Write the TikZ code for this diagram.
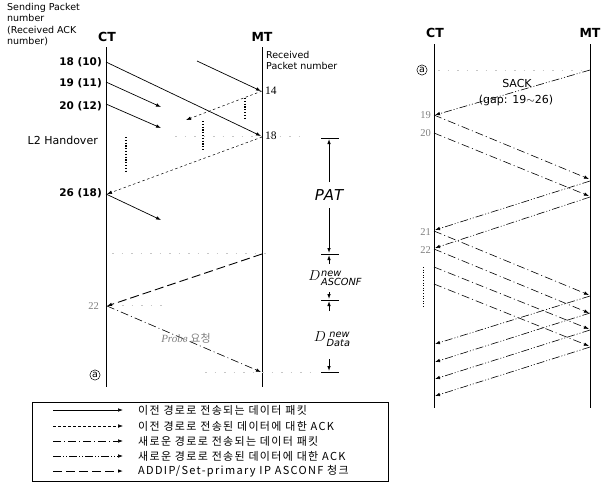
\documentclass[tikz,border=0pt]{standalone}
\usepackage{fontspec}
\setmainfont{DejaVu Sans}
\newfontfamily\kr[LetterSpace=12]{Noto Sans CJK KR}
\newfontfamily\krplain{Noto Sans CJK KR}
\newfontfamily\serifgray{Liberation Serif}
\usetikzlibrary{arrows.meta}
\newcommand{\dlab}[2]{$D$\kern0.6pt\raisebox{-5.5pt}{\shortstack[l]{$\scriptstyle\mathit{#1}$\\[-1.5pt]$\scriptstyle\mathit{#2}$}}}
\begin{document}
\begin{tikzpicture}[x=1pt,y=-1pt,
  tip/.style={-{Latex[length=5pt,width=3.6pt]}},
  life/.style={line width=0.9pt},
  olddata/.style={tip,line width=0.7pt},
  oldack/.style={tip,line width=0.5pt,dash pattern=on 2.5pt off 2.5pt},
  newdata/.style={tip,line width=0.6pt,dash pattern=on 8pt off 3pt on 1pt off 3pt},
  newack/.style={tip,line width=0.6pt,dash pattern=on 8pt off 2pt on 1pt off 2pt on 1pt off 2pt},
  asconf/.style={tip,line width=0.9pt,dash pattern=on 9pt off 4pt},
  faint/.style={gray!45,line width=0.5pt,dash pattern=on 1.5pt off 8pt},
  dots/.style={line width=1.6pt,dash pattern=on 1.2pt off 1.6pt},
  hdr/.style={font=\fontsize{12.5}{14}\selectfont\bfseries},
  num/.style={font=\fontsize{10.5}{12}\selectfont\bfseries,anchor=east,inner sep=1pt},
  small/.style={font=\fontsize{9.5}{11.5}\selectfont,align=left,inner sep=0pt},
  gnum/.style={font=\serifgray\fontsize{10.5}{12}\selectfont,text=gray,anchor=east,inner sep=1pt},
  circa/.style={circle,draw,line width=0.5pt,inner sep=0.8pt,font=\fontsize{9.5}{9.5}\selectfont},
  bar/.style={line width=0.9pt},
  meas/.style={line width=0.9pt,-{Latex[length=5pt,width=3.6pt]}},
  mlab/.style={inner sep=0pt,font=\fontsize{14}{16}\selectfont},
  leg/.style={font=\kr\fontsize{11}{12}\selectfont,anchor=west,inner sep=0pt}
]
\useasboundingbox (0,0) rectangle (602,482);

% ---------------- left panel ----------------
\node[small,anchor=north west] (hdrtxt) at (7,3) {Sending Packet\\number\\(Received ACK\\number)};
\node[hdr] (ctL) at (107,37) {CT};
\node[hdr] (mtL) at (262,37) {MT};
\coordinate (ctTop) at (106,47); \coordinate (ctBot) at (106,387);
\coordinate (mtTop) at (262,47); \coordinate (mtBot) at (262,387);
\draw[life] (ctTop) -- (ctBot);
\draw[life] (mtTop) -- (mtBot);
\node[small,anchor=north west] (rcv) at (266,51) {Received\\Packet number};

\node[num] (n18) at (103,62) {18 (10)};
\node[num] (n19) at (103,83) {19 (11)};
\node[num] (n20) at (103,106) {20 (12)};
\node[font=\fontsize{11}{12}\selectfont,anchor=east,inner sep=1pt] (l2) at (99,140) {L2 Handover};
\node[num] (n26) at (103,193) {26 (18)};
\node[font=\serifgray\fontsize{11.5}{12}\selectfont,anchor=west,inner sep=1pt] (m14) at (264,91) {14};
\node[font=\serifgray\fontsize{11.5}{12}\selectfont,anchor=west,inner sep=1pt] (m18) at (264,136) {18};

\coordinate (a18) at (106,62);  \coordinate (b18) at (261,136);
\coordinate (a14) at (197,61);  \coordinate (b14) at (261,91);
\coordinate (a19) at (106,82);  \coordinate (b19) at (161,107);
\coordinate (a20) at (106,104); \coordinate (b20) at (161,128);
\coordinate (a26) at (106,194); \coordinate (b26) at (161,220);
\coordinate (k14) at (262,91);  \coordinate (e14) at (186,120);
\coordinate (k18) at (262,137); \coordinate (e18) at (107,194);
\coordinate (asS) at (262,254); \coordinate (asE) at (107,306);
\coordinate (prS) at (107,306); \coordinate (prE) at (261,372);

% faint horizontal guides
\draw[faint] (175,136) -- (300,136);
\draw[faint] (112,253) -- (272,253);
\draw[faint] (122,305) -- (168,305);
\draw[faint] (205,372) -- (318,372);

\draw[olddata] (a14) -- (b14);
\draw[olddata] (a18) -- (b18);
\draw[olddata] (a19) -- (b19);
\draw[olddata] (a20) -- (b20);
\draw[olddata] (a26) -- (b26);
\draw[oldack] (k14) -- (e14);
\draw[oldack] (k18) -- (e18);
\draw[asconf] (asS) -- (asE);
\draw[newdata] (prS) -- (prE);

% dotted vertical marks
\coordinate (d1a) at (245,98);  \coordinate (d1b) at (245,118);
\coordinate (d2a) at (203,121); \coordinate (d2b) at (203,151);
\coordinate (d3a) at (126,137); \coordinate (d3b) at (126,172);
\draw[dots] (d1a) -- (d1b);
\draw[dots] (d2a) -- (d2b);
\draw[dots] (d3a) -- (d3b);

\node[gnum] (g22a) at (100,306) {22};
\node[circa] (ca1) at (95,375) {a};
\node[font=\serifgray\fontsize{11}{12}\selectfont\itshape,text=gray,inner sep=1pt] (probe) at (186,338) {Probe {\krplain 요청}};

% measurement column
\draw[bar] (321,138) -- (339,138);
\draw[bar] (321,254) -- (339,254);
\draw[bar] (321,300) -- (339,300);
\draw[bar] (321,372) -- (339,372);
\node[mlab,font=\fontsize{15}{17}\selectfont] (pat) at (329,195) {$\mathit{PAT}$};
\node[mlab] (dasc) at (335,278) {\dlab{new}{ASCONF}};
\node[mlab] (ddat) at (332,339) {\dlab{\;new}{Data}};
\draw[meas] (329,182) -- (329,139);
\draw[meas] (329,208) -- (329,253);
\draw[meas] (329,264) -- (329,255);
\draw[meas] (329,292) -- (329,299);
\draw[meas] (329,311) -- (329,301);
\draw[meas] (329,359) -- (329,371);

% ---------------- right panel ----------------
\node[hdr] (ctR) at (435,33) {CT};
\node[hdr] (mtR) at (590,33) {MT};
\coordinate (rctTop) at (434,44); \coordinate (rctBot) at (434,408);
\coordinate (rmtTop) at (590,44); \coordinate (rmtBot) at (590,408);
\draw[life] (rctTop) -- (rctBot);
\draw[life] (rmtTop) -- (rmtBot);
\node[circa] (ca2) at (422,70) {a};
\draw[faint] (438,70) -- (582,70);

\coordinate (sS) at (590,70);  \coordinate (sE) at (435,115);
\draw[newack] (sS) -- (sE);
\node[font=\fontsize{11}{12}\selectfont,inner sep=1pt] (sack) at (517,83) {SACK};
\node[font=\fontsize{11}{12}\selectfont,inner sep=1pt] (gap) at (516,100) {(gap: 19$\sim$26)};

\node[gnum] (g19) at (432,115) {19};
\node[gnum] (g20) at (432,133) {20};
\node[gnum] (g21) at (432,232) {21};
\node[gnum] (g22) at (432,250) {22};

\coordinate (r1a) at (434,115); \coordinate (r1b) at (589,179);
\coordinate (r2a) at (434,133); \coordinate (r2b) at (589,196);
\coordinate (q1a) at (590,181); \coordinate (q1b) at (435,230);
\coordinate (q2a) at (590,197); \coordinate (q2b) at (435,248);
\coordinate (r3a) at (434,231); \coordinate (r3b) at (589,295);
\coordinate (r4a) at (434,249); \coordinate (r4b) at (589,313);
\coordinate (r5a) at (434,267); \coordinate (r5b) at (589,329);
\coordinate (r6a) at (434,284); \coordinate (r6b) at (589,346);
\coordinate (q3a) at (590,296); \coordinate (q3b) at (435,344);
\coordinate (q4a) at (590,313); \coordinate (q4b) at (435,362);
\coordinate (q5a) at (590,330); \coordinate (q5b) at (435,379);
\coordinate (q6a) at (590,347); \coordinate (q6b) at (435,396);

\draw[newdata] (r1a) -- (r1b);
\draw[newdata] (r2a) -- (r2b);
\draw[newack] (q1a) -- (q1b);
\draw[newack] (q2a) -- (q2b);
\draw[newdata] (r3a) -- (r3b);
\draw[newdata] (r4a) -- (r4b);
\draw[newdata] (r5a) -- (r5b);
\draw[newdata] (r6a) -- (r6b);
\draw[newack] (q3a) -- (q3b);
\draw[newack] (q4a) -- (q4b);
\draw[newack] (q5a) -- (q5b);
\draw[newack] (q6a) -- (q6b);

\coordinate (d4a) at (423,267); \coordinate (d4b) at (423,308);
\draw[line width=1pt,dash pattern=on 1pt off 1.6pt] (d4a) -- (d4b);

% ---------------- legend ----------------
\node[draw,line width=0.7pt,minimum width=356pt,minimum height=79pt,anchor=north west,inner sep=0pt] (legbox) at (32,402) {};
\foreach \y/\st/\txt [count=\i] in {
  410/olddata/{이전 경로로 전송되는 데이터 패킷},
  426/oldack/{이전 경로로 전송된 데이터에 대한 ACK},
  441/newdata/{새로운 경로로 전송되는 데이터 패킷},
  456/newack/{새로운 경로로 전송된 데이터에 대한 ACK},
  471/asconf/{ADDIP/Set-primary IP ASCONF 청크}}{
  \coordinate (ls\i) at (53,\y);
  \coordinate (le\i) at (123,\y);
  \draw[\st] (ls\i) -- (le\i);
  \node[leg] (lt\i) at (138,\y) {\txt};
}
\end{tikzpicture}
\end{document}
